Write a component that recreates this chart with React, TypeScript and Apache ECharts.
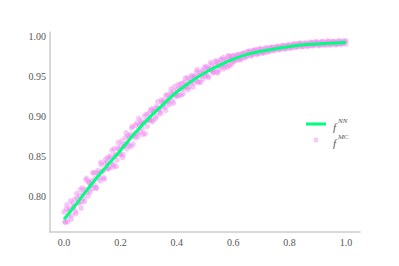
import React, { useEffect, useRef } from "react";
import * as echarts from "echarts";

const xTicks = [0, 0.2, 0.4, 0.6, 0.8, 1.0];
const yTicks = [0.8, 0.85, 0.9, 0.95, 1.0];

const nnX = [0, 0.05, 0.1, 0.15, 0.2, 0.25, 0.3, 0.35, 0.4, 0.45, 0.5, 0.55, 0.6, 0.65, 0.7, 0.75, 0.8, 0.85, 0.9, 0.95, 1.0];
const nnY = [0.772, 0.794, 0.817, 0.838, 0.858, 0.879, 0.898, 0.915, 0.931, 0.944, 0.955, 0.964, 0.972, 0.978, 0.982, 0.985, 0.988, 0.99, 0.991, 0.992, 0.993];

// Monte Carlo samples, low range (x < 0.3)
const mcLow: [number, number][] = [
  [0.0, 0.781], [0.005, 0.768], [0.01, 0.79], [0.015, 0.776], [0.02, 0.785], [0.025, 0.772],
  [0.03, 0.792], [0.035, 0.788], [0.04, 0.782], [0.045, 0.804], [0.05, 0.792], [0.055, 0.801],
  [0.06, 0.786], [0.065, 0.811], [0.07, 0.798], [0.075, 0.809], [0.08, 0.823], [0.085, 0.801],
  [0.09, 0.818], [0.095, 0.814], [0.1, 0.81], [0.105, 0.83], [0.11, 0.823], [0.115, 0.811],
  [0.12, 0.833], [0.125, 0.824], [0.13, 0.843], [0.135, 0.832], [0.14, 0.824], [0.145, 0.842],
  [0.15, 0.835], [0.155, 0.849], [0.16, 0.836], [0.165, 0.848], [0.17, 0.858], [0.175, 0.84],
  [0.18, 0.851], [0.185, 0.838], [0.19, 0.861], [0.195, 0.859], [0.2, 0.853], [0.205, 0.87],
  [0.21, 0.853], [0.215, 0.866], [0.22, 0.88], [0.225, 0.867], [0.23, 0.864], [0.235, 0.878],
  [0.24, 0.886], [0.245, 0.866], [0.25, 0.879], [0.255, 0.889], [0.26, 0.879], [0.265, 0.898],
  [0.27, 0.881], [0.275, 0.892], [0.28, 0.878], [0.285, 0.901], [0.29, 0.895], [0.295, 0.888],
  [0.0025, 0.769], [0.0075, 0.785], [0.0125, 0.769], [0.0175, 0.783], [0.0225, 0.795], [0.0275, 0.777],
  [0.0325, 0.786], [0.0375, 0.797], [0.0425, 0.779], [0.0475, 0.798], [0.0525, 0.793], [0.0575, 0.809],
  [0.0625, 0.794], [0.0675, 0.804], [0.0725, 0.794], [0.0775, 0.821], [0.0825, 0.806], [0.0875, 0.818],
  [0.0925, 0.806], [0.0975, 0.82], [0.1025, 0.83], [0.1075, 0.815], [0.1125, 0.811], [0.1175, 0.83],
  [0.1225, 0.828], [0.1275, 0.82], [0.1325, 0.84], [0.1375, 0.832], [0.1425, 0.822], [0.1475, 0.847],
  [0.1525, 0.843], [0.1575, 0.835], [0.1625, 0.851], [0.1675, 0.842], [0.1725, 0.837], [0.1775, 0.86],
  [0.1825, 0.853], [0.1875, 0.846], [0.1925, 0.868], [0.1975, 0.853], [0.2025, 0.864], [0.2075, 0.849],
  [0.2125, 0.863], [0.2175, 0.874], [0.2225, 0.86], [0.2275, 0.876], [0.2325, 0.875], [0.2375, 0.863],
  [0.2425, 0.888], [0.2475, 0.876], [0.2525, 0.874], [0.2575, 0.892], [0.2625, 0.875], [0.2675, 0.89],
  [0.2725, 0.895], [0.2775, 0.885], [0.2825, 0.892], [0.2875, 0.879], [0.2925, 0.903], [0.2975, 0.896],
];

// Monte Carlo samples, middle range (0.3 <= x < 0.6)
const mcMid: [number, number][] = [
  [0.3, 0.904], [0.305, 0.896], [0.31, 0.91], [0.315, 0.896], [0.32, 0.907], [0.325, 0.898],
  [0.33, 0.913], [0.335, 0.91], [0.34, 0.906], [0.345, 0.921], [0.35, 0.913], [0.355, 0.921],
  [0.36, 0.908], [0.365, 0.927], [0.37, 0.918], [0.375, 0.924], [0.38, 0.935], [0.385, 0.92],
  [0.39, 0.932], [0.395, 0.928], [0.4, 0.926], [0.405, 0.94], [0.41, 0.935], [0.415, 0.927],
  [0.42, 0.942], [0.425, 0.935], [0.43, 0.948], [0.435, 0.94], [0.44, 0.934], [0.445, 0.947],
  [0.45, 0.942], [0.455, 0.951], [0.46, 0.942], [0.465, 0.95], [0.47, 0.956], [0.475, 0.944],
  [0.48, 0.952], [0.485, 0.943], [0.49, 0.958], [0.495, 0.956], [0.5, 0.951], [0.505, 0.963],
  [0.51, 0.951], [0.515, 0.959], [0.52, 0.968], [0.525, 0.958], [0.53, 0.955], [0.535, 0.964],
  [0.54, 0.969], [0.545, 0.955], [0.55, 0.964], [0.555, 0.971], [0.56, 0.963], [0.565, 0.974],
  [0.57, 0.963], [0.575, 0.97], [0.58, 0.962], [0.585, 0.976], [0.59, 0.971], [0.595, 0.966],
  [0.3025, 0.896], [0.3075, 0.908], [0.3125, 0.894], [0.3175, 0.906], [0.3225, 0.911], [0.3275, 0.901],
  [0.3325, 0.919], [0.3375, 0.909], [0.3425, 0.904], [0.3475, 0.918], [0.3525, 0.917], [0.3575, 0.912],
  [0.3625, 0.927], [0.3675, 0.92], [0.3725, 0.915], [0.3775, 0.93], [0.3825, 0.928], [0.3875, 0.917],
  [0.3925, 0.938], [0.3975, 0.926], [0.4025, 0.934], [0.4075, 0.927], [0.4125, 0.941], [0.4175, 0.936],
  [0.4225, 0.929], [0.4275, 0.943], [0.4325, 0.937], [0.4375, 0.949], [0.4425, 0.937], [0.4475, 0.944],
  [0.4525, 0.951], [0.4575, 0.937], [0.4625, 0.95], [0.4675, 0.946], [0.4725, 0.959], [0.4775, 0.943],
  [0.4825, 0.955], [0.4875, 0.951], [0.4925, 0.947], [0.4975, 0.962], [0.5025, 0.953], [0.5075, 0.961],
  [0.5125, 0.949], [0.5175, 0.96], [0.5225, 0.965], [0.5275, 0.956], [0.5325, 0.96], [0.5375, 0.97],
  [0.5425, 0.956], [0.5475, 0.967], [0.5525, 0.959], [0.5575, 0.972], [0.5625, 0.966], [0.5675, 0.96],
  [0.5725, 0.972], [0.5775, 0.966], [0.5825, 0.976], [0.5875, 0.964], [0.5925, 0.973], [0.5975, 0.976],
];

// Monte Carlo samples, high range (x >= 0.6)
const mcHigh: [number, number][] = [
  [0.6, 0.976], [0.6, 0.969], [0.61, 0.971], [0.61, 0.977], [0.62, 0.978], [0.62, 0.972],
  [0.63, 0.973], [0.63, 0.979], [0.64, 0.98], [0.64, 0.974], [0.65, 0.976], [0.65, 0.981],
  [0.66, 0.982], [0.66, 0.977], [0.67, 0.978], [0.67, 0.983], [0.68, 0.984], [0.68, 0.979],
  [0.69, 0.979], [0.69, 0.984], [0.7, 0.985], [0.7, 0.98], [0.71, 0.984], [0.71, 0.98],
  [0.72, 0.981], [0.72, 0.986], [0.73, 0.982], [0.73, 0.986], [0.74, 0.987], [0.74, 0.983],
  [0.75, 0.987], [0.75, 0.984], [0.76, 0.984], [0.76, 0.988], [0.77, 0.985], [0.77, 0.988],
  [0.78, 0.989], [0.78, 0.985], [0.79, 0.989], [0.79, 0.986], [0.8, 0.986], [0.8, 0.99],
  [0.81, 0.987], [0.81, 0.99], [0.82, 0.991], [0.82, 0.987], [0.83, 0.991], [0.83, 0.988],
  [0.84, 0.988], [0.84, 0.992], [0.85, 0.988], [0.85, 0.991], [0.86, 0.992], [0.86, 0.989],
  [0.87, 0.992], [0.87, 0.989], [0.88, 0.989], [0.88, 0.993], [0.89, 0.99], [0.89, 0.993],
  [0.9, 0.993], [0.9, 0.99], [0.91, 0.993], [0.91, 0.99], [0.92, 0.99], [0.92, 0.994],
  [0.93, 0.99], [0.93, 0.993], [0.94, 0.994], [0.94, 0.99], [0.95, 0.994], [0.95, 0.991],
  [0.96, 0.991], [0.96, 0.994], [0.97, 0.991], [0.97, 0.994], [0.98, 0.994], [0.98, 0.991],
  [0.99, 0.995], [0.99, 0.992], [1.0, 0.991], [1.0, 0.995],
  [0.605, 0.97], [0.615, 0.977], [0.625, 0.971], [0.635, 0.979], [0.645, 0.975], [0.655, 0.982],
  [0.665, 0.976], [0.675, 0.983], [0.685, 0.978], [0.695, 0.985], [0.705, 0.98], [0.715, 0.986],
  [0.725, 0.982], [0.735, 0.987], [0.745, 0.983], [0.755, 0.988], [0.765, 0.984], [0.775, 0.989],
  [0.785, 0.985], [0.795, 0.99], [0.805, 0.986], [0.815, 0.991], [0.825, 0.987], [0.835, 0.992],
  [0.845, 0.988], [0.855, 0.992], [0.865, 0.988], [0.875, 0.993], [0.885, 0.989], [0.895, 0.994],
  [0.905, 0.989], [0.915, 0.994], [0.925, 0.99], [0.935, 0.995], [0.945, 0.99], [0.955, 0.994],
  [0.965, 0.99], [0.975, 0.995], [0.985, 0.991], [0.995, 0.994],
];

const lineColor = "#00ff7f";
const dotColor = "violet";
const textColor = "#555555";
const serif = "Liberation Serif";

export default function App() {
  const ref = useRef<HTMLDivElement>(null);
  useEffect(() => {
    if (!ref.current) return;
    const chart = echarts.init(ref.current, undefined, { renderer: "svg" });
    chart.setOption({
      animation: false,
      backgroundColor: "#ffffff",
      grid: { left: 42, right: 39, top: 24, bottom: 34 },
      xAxis: {
        type: "value",
        min: -0.05,
        max: 1.05,
        splitLine: { show: false },
        axisLine: { show: true, onZero: false, lineStyle: { color: "#cccccc", width: 1.5 } },
        axisTick: { show: false },
        axisLabel: {
          customValues: xTicks,
          formatter: (v: number) => v.toFixed(1),
          color: textColor,
          fontFamily: serif,
          fontSize: 10,
          margin: 5,
        },
      },
      yAxis: {
        type: "value",
        min: 0.756,
        max: 1.006,
        splitLine: { show: false },
        axisLine: { show: true, onZero: false, lineStyle: { color: "#cccccc", width: 1.5 } },
        axisTick: { show: false },
        axisLabel: {
          customValues: yTicks,
          formatter: (v: number) => v.toFixed(2),
          color: textColor,
          fontFamily: serif,
          fontSize: 10,
          margin: 4,
        },
      },
      series: [
        {
          name: "MC",
          type: "scatter",
          data: [...mcLow, ...mcMid, ...mcHigh],
          symbolSize: 5.5,
          itemStyle: { color: dotColor, opacity: 0.45 },
          z: 2,
        },
        {
          name: "NN",
          type: "line",
          data: nnX.map((x, i) => [x, nnY[i]]),
          smooth: true,
          showSymbol: false,
          symbol: "none",
          lineStyle: { color: lineColor, width: 3 },
          z: 3,
        },
      ],
      graphic: [
        { type: "line", shape: { x1: 298, y1: 116, x2: 318, y2: 116 }, style: { stroke: lineColor, lineWidth: 3 } },
        { type: "text", x: 325, y: 119, style: { text: "f", font: `italic 11px ${serif}`, fill: textColor, textVerticalAlign: "middle" } },
        { type: "text", x: 330, y: 113, style: { text: "NN", font: `italic 7px ${serif}`, fill: textColor, textVerticalAlign: "middle" } },
        { type: "circle", shape: { cx: 308, cy: 132, r: 2.5 }, style: { fill: dotColor, opacity: 0.45 } },
        { type: "text", x: 325, y: 135, style: { text: "f", font: `italic 11px ${serif}`, fill: textColor, textVerticalAlign: "middle" } },
        { type: "text", x: 330, y: 129, style: { text: "MC", font: `italic 7px ${serif}`, fill: textColor, textVerticalAlign: "middle" } },
      ],
    });
    return () => chart.dispose();
  }, []);
  return <div ref={ref} style={{ width: 391, height: 258 }} />;
}
